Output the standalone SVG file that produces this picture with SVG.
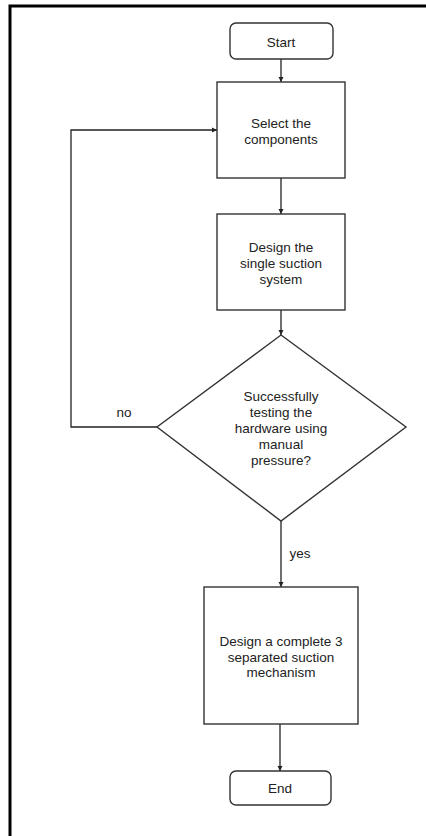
<svg xmlns="http://www.w3.org/2000/svg" width="426" height="836" viewBox="0 0 426 836">
  <style>
    .shape { fill: #ffffff; stroke: #333333; stroke-width: 1.4; }
    .link { fill: none; stroke: #222222; stroke-width: 1.3; }
    .label { font-family: "Liberation Sans", Arial, sans-serif; font-size: 13.5px; fill: #222222; text-anchor: middle; dominant-baseline: central; }
  </style>
  <defs>
    <marker id="arrow" viewBox="0 0 6 6" refX="6" refY="3" markerWidth="4" markerHeight="4" orient="auto">
      <path d="M0,0 L6,3 L0,6 Z" fill="#222222"/>
    </marker>
  </defs>

  <rect width="426" height="836" fill="#ffffff"/>
  <!-- page frame (top and left edges) -->
  <path d="M10,836 V6 H426" fill="none" stroke="#000000" stroke-width="3"/>

  <g id="connectors">
    <path class="link" d="M281,59 V82" marker-end="url(#arrow)"/>
    <path class="link" d="M281,178 V214" marker-end="url(#arrow)"/>
    <path class="link" d="M281,310 V335" marker-end="url(#arrow)"/>
    <path class="link" d="M157,427 H71 V130 H217" marker-end="url(#arrow)"/>
    <path class="link" d="M281,521 V587" marker-end="url(#arrow)"/>
    <path class="link" d="M280,724 V771" marker-end="url(#arrow)"/>
    <text class="label" x="124" y="412">no</text>
    <text class="label" x="300" y="553">yes</text>
  </g>

  <g id="start">
    <rect class="shape" x="230" y="23" width="103" height="36" rx="6"/>
    <text class="label" x="281" y="42">Start</text>
  </g>

  <g id="select">
    <rect class="shape" x="217" y="82" width="128" height="96"/>
    <text class="label" x="281" y="123">Select the</text>
    <text class="label" x="281" y="139">components</text>
  </g>

  <g id="design-single">
    <rect class="shape" x="217" y="214" width="128" height="96"/>
    <text class="label" x="281" y="247">Design the</text>
    <text class="label" x="281" y="263">single suction</text>
    <text class="label" x="281" y="279">system</text>
  </g>

  <g id="test">
    <polygon class="shape" points="281,335 406,427 281,521 157,427"/>
    <text class="label" x="281" y="396">Successfully</text>
    <text class="label" x="281" y="412">testing the</text>
    <text class="label" x="281" y="428">hardware using</text>
    <text class="label" x="281" y="444">manual</text>
    <text class="label" x="281" y="460">pressure?</text>
  </g>

  <g id="design-complete">
    <rect class="shape" x="204" y="587" width="154" height="137"/>
    <text class="label" x="281" y="641">Design a complete 3</text>
    <text class="label" x="281" y="657">separated suction</text>
    <text class="label" x="281" y="672">mechanism</text>
  </g>

  <g id="end">
    <rect class="shape" x="230" y="771" width="101" height="34" rx="6"/>
    <text class="label" x="280" y="788">End</text>
  </g>
</svg>
